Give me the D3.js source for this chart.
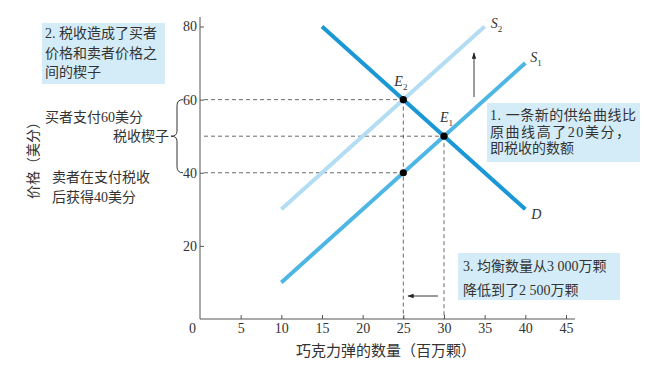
<!DOCTYPE html>
<html>
<head>
<meta charset="utf-8">
<script src="https://cdn.jsdelivr.net/npm/d3@7"></script>
<style>
  body { margin: 0; background: #fff; }
  svg text { font-family: "Liberation Serif", "DejaVu Serif", "Noto Sans CJK SC", serif; fill: #333; }
</style>
</head>
<body>
<div id="chart"></div>
<script>
// tick labels
var xTicks = [0, 5, 10, 15, 20, 25, 30, 35, 40, 45];
var yTicks = [20, 40, 60, 80];

// curves as [quantity, price] end points
var demandD = [[15, 80], [40, 30]];
var supplyS1 = [[10, 10], [40, 70]];
var supplyS2 = [[10, 30], [35, 80]];

// equilibria and marked points
var points = [
  { q: 25, p: 60, label: "E", sub: "2" },
  { q: 30, p: 50, label: "E", sub: "1" },
  { q: 25, p: 40, label: null }
];

var buyerPrice = 60, sellerPrice = 40, oldPrice = 50;
var newQty = 25, oldQty = 30;

var W = 664, H = 385;
var svg = d3.select("#chart").append("svg")
  .attr("width", W).attr("height", H);

var x = d3.scaleLinear().domain([0, 45]).range([200, 566]);
var y = d3.scaleLinear().domain([0, 80]).range([319, 26.5]);

var axisColor = "#555";

// axes lines
svg.append("line")
  .attr("x1", x(0)).attr("x2", 575)
  .attr("y1", y(0)).attr("y2", y(0))
  .attr("stroke", axisColor).attr("stroke-width", 1);
svg.append("line")
  .attr("x1", x(0)).attr("x2", x(0))
  .attr("y1", 17).attr("y2", y(0))
  .attr("stroke", axisColor).attr("stroke-width", 1);

// x axis ticks (inward) and labels
var xAxis = svg.append("g")
  .attr("transform", "translate(0," + y(0) + ")")
  .call(d3.axisBottom(x).tickValues(xTicks).tickSize(-4).tickPadding(4));
xAxis.select(".domain").remove();
xAxis.selectAll(".tick line").attr("stroke", axisColor)
  .attr("opacity", function (d) { return d === 0 ? 0 : 1; });
xAxis.selectAll(".tick text")
  .attr("font-size", 14).attr("fill", "#333")
  .attr("font-family", "Liberation Serif, serif")
  .attr("dx", function (d) { return d === 0 ? -8 : 0; });

// y axis ticks (inward) and labels
var yAxis = svg.append("g")
  .attr("transform", "translate(" + x(0) + ",0)")
  .call(d3.axisLeft(y).tickValues(yTicks).tickSize(-4).tickPadding(3));
yAxis.select(".domain").remove();
yAxis.selectAll(".tick line").attr("stroke", axisColor);
yAxis.selectAll(".tick text")
  .attr("font-size", 14).attr("fill", "#333")
  .attr("font-family", "Liberation Serif, serif");

// dashed guides
var dash = svg.append("g")
  .attr("stroke", "#444").attr("stroke-width", 0.8)
  .attr("stroke-dasharray", "4,3").attr("fill", "none");
[[buyerPrice, newQty], [oldPrice, oldQty], [sellerPrice, newQty]].forEach(function (d) {
  dash.append("line")
    .attr("x1", x(0) + 4).attr("x2", x(d[1]))
    .attr("y1", y(d[0])).attr("y2", y(d[0]));
});
dash.append("line")
  .attr("x1", x(newQty)).attr("x2", x(newQty))
  .attr("y1", y(buyerPrice)).attr("y2", y(0));
dash.append("line")
  .attr("x1", x(oldQty)).attr("x2", x(oldQty))
  .attr("y1", y(oldPrice)).attr("y2", y(0));

// curves
var line = d3.line().x(function (d) { return x(d[0]); }).y(function (d) { return y(d[1]); });
svg.append("path").attr("d", line(supplyS2))
  .attr("stroke", "#b3ddf3").attr("stroke-width", 4).attr("fill", "none");
svg.append("path").attr("d", line(supplyS1))
  .attr("stroke", "#4db6e5").attr("stroke-width", 4).attr("fill", "none");
svg.append("path").attr("d", line(demandD))
  .attr("stroke", "#1a97d5").attr("stroke-width", 4).attr("fill", "none");

// points
svg.selectAll("circle.pt").data(points).enter().append("circle")
  .attr("class", "pt")
  .attr("cx", function (d) { return x(d.q); })
  .attr("cy", function (d) { return y(d.p); })
  .attr("r", 3.6).attr("fill", "#000");

// italic curve labels with subscripts
function italicLabel(px, py, main, sub) {
  var t = svg.append("text").attr("x", px).attr("y", py)
    .attr("font-size", 14).attr("font-style", "italic")
    .attr("font-family", "Liberation Serif, serif");
  t.append("tspan").text(main);
  if (sub) {
    t.append("tspan").attr("font-size", 9).attr("font-style", "normal")
      .attr("dy", 4).text(sub);
  }
}
italicLabel(x(25) - 9, y(60) - 14, "E", "2");
italicLabel(x(30) - 4, y(50) - 14, "E", "1");
italicLabel(x(35) + 6, y(80) + 1, "S", "2");
italicLabel(x(40) + 5, y(70) - 1, "S", "1");
italicLabel(x(40) + 6, y(30) + 10, "D", null);

// arrows
var defs = svg.append("defs");
defs.append("marker").attr("id", "ah")
  .attr("viewBox", "0 0 10 10").attr("refX", 9).attr("refY", 5)
  .attr("markerWidth", 7).attr("markerHeight", 7)
  .attr("orient", "auto-start-reverse")
  .append("path").attr("d", "M0,1.5 L10,5 L0,8.5 Z").attr("fill", "#222");
svg.append("line")
  .attr("x1", 474).attr("x2", 474).attr("y1", 97).attr("y2", 53)
  .attr("stroke", "#222").attr("stroke-width", 0.9).attr("marker-end", "url(#ah)");
svg.append("line")
  .attr("x1", 438).attr("x2", 408).attr("y1", 296).attr("y2", 296)
  .attr("stroke", "#222").attr("stroke-width", 0.9).attr("marker-end", "url(#ah)");

// annotation boxes
function box(bx, by, bw, bh, lines, lx, ly0, lh, fit) {
  svg.append("rect").attr("x", bx).attr("y", by).attr("width", bw).attr("height", bh)
    .attr("fill", "#d3ecf8");
  lines.forEach(function (s, i) {
    var t = svg.append("text").attr("x", lx).attr("y", ly0 + i * lh)
      .attr("font-size", 14).attr("fill", "#333").text(s);
    if (fit && fit[i]) t.attr("textLength", fit[i]).attr("lengthAdjust", "spacing");
  });
}
box(42, 23, 123, 61, ["2. 税收造成了买者", "价格和卖者价格之", "间的楔子"], 45, 38, 19.5, [112, 112, null]);
box(487, 103, 153, 59, ["1. 一条新的供给曲线比", "原曲线高了20美分，", "即税收的数额"], 490, 120, 16.5, [146, 140, null]);
box(458, 253, 162, 47, ["3. 均衡数量从3 000万颗", "降低到了2 500万颗"], 463, 271, 23.5, null);

// left side labels
function plain(px, py, s, anchor) {
  svg.append("text").attr("x", px).attr("y", py).attr("font-size", 14)
    .attr("text-anchor", anchor || "start").text(s);
}
plain(45, 122, "买者支付60美分");
plain(169, 141, "税收楔子", "end");
plain(52, 182, "卖者在支付税收");
plain(52, 202, "后获得40美分");

// brace between 60 and 40
var bx = 177, tipX = 171, y1 = y(buyerPrice), y2 = y(sellerPrice), ym = y(oldPrice);
var bp = d3.path();
bp.moveTo(bx + 6, y1);
bp.quadraticCurveTo(bx, y1, bx, y1 + 6);
bp.lineTo(bx, ym - 5);
bp.quadraticCurveTo(bx, ym, tipX, ym);
bp.quadraticCurveTo(bx, ym, bx, ym + 5);
bp.lineTo(bx, y2 - 6);
bp.quadraticCurveTo(bx, y2, bx + 6, y2);
svg.append("path").attr("d", bp.toString())
  .attr("stroke", "#333").attr("stroke-width", 1).attr("fill", "none");

// axis titles
svg.append("text")
  .attr("transform", "translate(38,157) rotate(-90)")
  .attr("text-anchor", "middle").attr("font-size", 14)
  .text("价格（美分）");
svg.append("text")
  .attr("x", 386).attr("y", 356)
  .attr("text-anchor", "middle").attr("font-size", 15)
  .text("巧克力弹的数量（百万颗）");
</script>
</body>
</html>
